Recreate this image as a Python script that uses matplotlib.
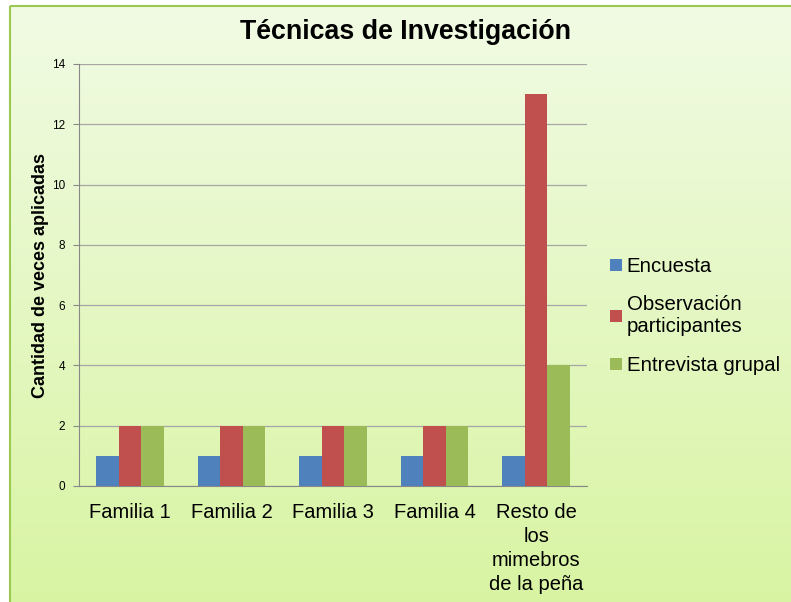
import matplotlib
matplotlib.use("Agg")
import matplotlib.pyplot as plt
import numpy as np
from matplotlib.colors import LinearSegmentedColormap
from matplotlib.patches import Rectangle

categories = ["Familia 1", "Familia 2", "Familia 3", "Familia 4",
              "Resto de\nlos\nmimebros\nde la peña"]
series_names = ["Encuesta", "Observación\nparticipantes", "Entrevista grupal"]
encuesta = [1, 1, 1, 1, 1]
observacion = [2, 2, 2, 2, 13]
entrevista = [2, 2, 2, 2, 4]
colors = ["#4f81bd", "#c0504d", "#9bbb59"]

plt.rcParams['font.family'] = ['Liberation Sans', 'DejaVu Sans']

fig = plt.figure(figsize=(7.91, 6.02), dpi=100)

# background gradient panel with green border
bg = fig.add_axes([0, 0, 1, 1], zorder=-10)
bg.set_xlim(0, 791)
bg.set_ylim(602, 0)
bg.axis('off')
cmap = LinearSegmentedColormap.from_list("g", ["#f1fbe4", "#d8f4a2"])
grad = np.linspace(0, 1, 256).reshape(-1, 1)
bg.imshow(grad, cmap=cmap, aspect='auto', extent=[10, 800, 610, 6], zorder=0)
bg.add_patch(Rectangle((10, 6), 800, 610, fill=False, edgecolor="#9bc850", linewidth=1.5, zorder=1))

ax = fig.add_axes([79/791, 1-486/602, (587-79)/791, (486-64)/602])
ax.set_facecolor('none')
x = np.arange(len(categories))
w = 0.222
for i, (vals, c) in enumerate(zip([encuesta, observacion, entrevista], colors)):
    ax.bar(x + (i-1)*w, vals, width=w, color=c, label=series_names[i], zorder=3)

ax.set_xlim(-0.5, len(categories)-0.5)
ax.set_ylim(0, 14)
ax.set_yticks(range(0, 15, 2))
ax.set_xticks(x)
ax.set_xticklabels(categories, fontsize=14.5, linespacing=1.34, va='top')
ax.tick_params(axis='x', length=0, pad=12)
ax.tick_params(axis='y', labelsize=8.5, length=4, color="#888888", pad=6)
ax.grid(axis='y', color="#a6a6a6", linewidth=0.9, zorder=0)
for s in ['top', 'right']:
    ax.spines[s].set_visible(False)
ax.spines['left'].set_color("#888888")
ax.spines['bottom'].set_color("#888888")
ax.set_ylabel("Cantidad de veces aplicadas", fontsize=13, fontweight='bold', labelpad=2)

fig.text(406/791, 1-32/602, "Técnicas de Investigación", fontsize=19.3, fontweight='bold',
         ha='center', va='center')

leg = ax.legend(loc='center left', bbox_to_anchor=(592/791, 1-316/602), bbox_transform=fig.transFigure,
                frameon=False, fontsize=14.7, handlelength=0.55, handleheight=0.55, handletextpad=0.25,
                labelspacing=0.95)

fig.savefig("out.png", dpi=100)
